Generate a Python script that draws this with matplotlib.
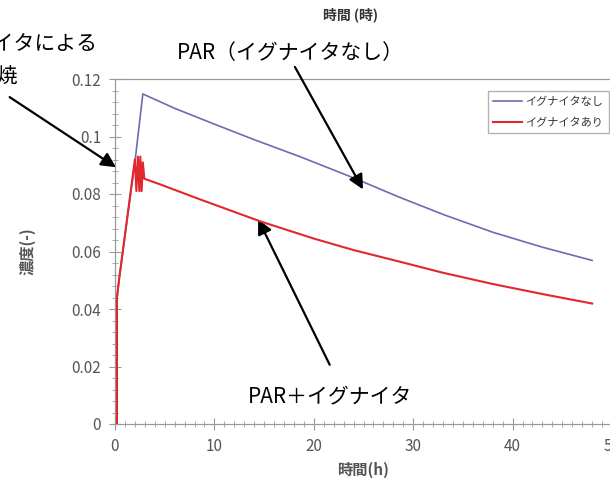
import matplotlib
matplotlib.use("Agg")
import matplotlib.pyplot as plt
from matplotlib.ticker import MultipleLocator

plt.rcParams['font.family'] = ['Noto Sans CJK JP', 'DejaVu Sans']

# ---- data ----
t_none = [0.2, 0.2, 0.4, 2.0, 2.8, 6, 10, 14, 18.6, 24, 28.6, 33, 38, 43, 48]
c_none = [0.0, 0.044, 0.050, 0.091, 0.1148, 0.1098, 0.1043, 0.0989, 0.0930, 0.0856,
          0.0789, 0.0729, 0.0667, 0.0615, 0.0569]

t_ign = [0.2, 0.2, 0.4, 2.0, 2.15, 2.3, 2.45, 2.55, 2.68, 2.8, 2.95, 4.5, 8.5, 14.6, 20,
         24, 28.6, 33, 38, 43, 48]
c_ign = [0.0, 0.044, 0.050, 0.092, 0.081, 0.093, 0.081, 0.093, 0.081, 0.091, 0.0853, 0.0834,
         0.0782, 0.0705, 0.0645, 0.0605, 0.0565, 0.0526, 0.0487, 0.0452, 0.0419]

label_none = "イグナイタなし"
label_ign = "イグナイタあり"
xticks = [0, 10, 20, 30, 40, 50]
yticks = [0, 0.02, 0.04, 0.06, 0.08, 0.1, 0.12]
ytick_labels = ["0", "0.02", "0.04", "0.06", "0.08", "0.1", "0.12"]

W, H = 610, 487
fig = plt.figure(figsize=(W / 100, H / 100), dpi=100)
ax = fig.add_axes([115 / W, (H - 424) / H, 497 / W, 345 / H])

gray = '#9a9a9a'
tcol = '#555555'

ax.plot(t_none, c_none, color='#6b6bb0', lw=1.2, label=label_none, zorder=3)
ax.plot(t_ign, c_ign, color='#e0282e', lw=1.5, label=label_ign, zorder=4)

ax.set_xlim(0, 50)
ax.set_ylim(0, 0.12)
ax.set_xticks(xticks)
ax.set_yticks(yticks)
ax.set_yticklabels(ytick_labels)
ax.xaxis.set_minor_locator(MultipleLocator(1))
ax.yaxis.set_minor_locator(MultipleLocator(0.004))
ax.tick_params(which='major', direction='inout', length=8, width=0.8, color=gray,
               labelcolor=tcol, labelsize=11, pad=6)
ax.tick_params(which='minor', direction='inout', length=5, width=0.6, color=gray)
for s in ax.spines.values():
    s.set_color(gray)
    s.set_linewidth(0.9)

ax.set_xlabel("時間(h)", fontsize=11, color=tcol, fontweight='bold', labelpad=5)
ax.set_ylabel("濃度(-)", fontsize=11, color=tcol, fontweight='bold', labelpad=26)

leg = ax.legend(loc='upper left', bbox_to_anchor=(482 / W, 1 - 85 / H),
                bbox_transform=fig.transFigure, fontsize=8, frameon=True,
                fancybox=False, edgecolor='#a0a0a0', handlelength=2.6,
                borderpad=0.5, labelspacing=1.0, handletextpad=0.3)
for txt in leg.get_texts():
    txt.set_color('#333333')

# title-like text
fig.text(351 / W, 1 - 15 / H, "時間 (時)", ha='center', va='center', fontsize=10,
         fontweight='bold', color='#333333')

# annotations
fs = 15
fig.text(290 / W, 1 - 53 / H, "PAR（イグナイタなし）", ha='center', va='center', fontsize=fs)
fig.text(330 / W, 1 - 396 / H, "PAR＋イグナイタ", ha='center', va='center', fontsize=fs)
fig.text(-70 / W, 1 - 43 / H, "イグナイタによる", ha='left', va='center', fontsize=fs)
fig.text(-66 / W, 1 - 77 / H, "水素燃焼", ha='left', va='center', fontsize=fs)

ap = dict(arrowstyle='-|>', mutation_scale=22, lw=1.6, color='black', shrinkA=0, shrinkB=0)
ax.annotate('', xy=(24.95, 0.0816), xytext=(18.1, 0.1242), arrowprops=ap, annotation_clip=False)
ax.annotate('', xy=(14.4, 0.0712), xytext=(21.6, 0.0206), arrowprops=ap, annotation_clip=False)
ax.annotate('', xy=(0.1, 0.0893), xytext=(-10.6, 0.1137), arrowprops=ap, annotation_clip=False)

fig.savefig("out.png", dpi=100)
